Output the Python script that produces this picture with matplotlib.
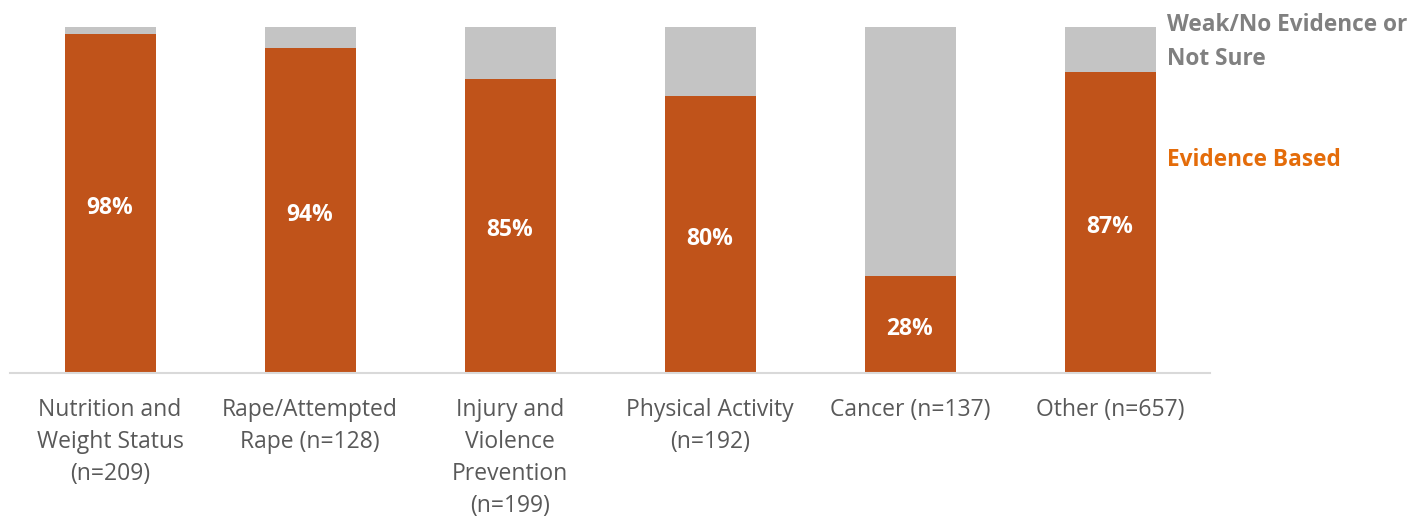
import numpy as np
import matplotlib.pyplot as plt

plt.rcParams['font.family'] = ['Open Sans', 'DejaVu Sans']

categories = ['Nutrition and\nWeight Status\n(n=209)', 'Rape/Attempted\nRape (n=128)',
              'Injury and\nViolence\nPrevention\n(n=199)', 'Physical Activity\n(n=192)',
              'Cancer (n=137)', 'Other (n=657)']
evidence = [98, 94, 85, 80, 28, 87]
weak = [100 - v for v in evidence]

orange = '#C0531A'
grey = '#C4C4C4'

fig = plt.figure(figsize=(14.26, 5.19), dpi=100)
ax = fig.add_axes([10 / 1426, 1 - 373 / 519, 1200 / 1426, 346 / 519])

x = np.arange(len(categories))
ax.bar(x, evidence, width=0.455, color=orange, zorder=2)
ax.bar(x, weak, width=0.455, bottom=evidence, color=grey, zorder=2)

for xi, v in zip(x, evidence):
    ax.annotate(f'{v}%', (xi, v / 2), xytext=(0, -3), textcoords='offset points',
                ha='center', va='center', color='white', fontsize=16.5, fontweight='bold')

ax.set_xlim(-0.5, 5.5)
ax.set_ylim(0, 100)
ax.set_xticks(x)
ax.set_xticklabels(categories, fontsize=16.5, color='#595959', linespacing=1.45)
ax.tick_params(axis='x', length=0, pad=18)
ax.set_yticks([])
for s in ['top', 'right', 'left']:
    ax.spines[s].set_visible(False)
ax.spines['bottom'].set_color('#D9D9D9')
ax.spines['bottom'].set_linewidth(1.5)

fig.text(1167 / 1426, 1 - 42 / 519, 'Weak/No Evidence or\nNot Sure', ha='left', va='center',
         fontsize=16.3, fontweight='bold', color='#808080', linespacing=1.57)
fig.text(1167 / 1426, 1 - 160 / 519, 'Evidence Based', ha='left', va='center',
         fontsize=16.3, fontweight='bold', color='#E46C0A')

fig.savefig('out.png', dpi=100)
